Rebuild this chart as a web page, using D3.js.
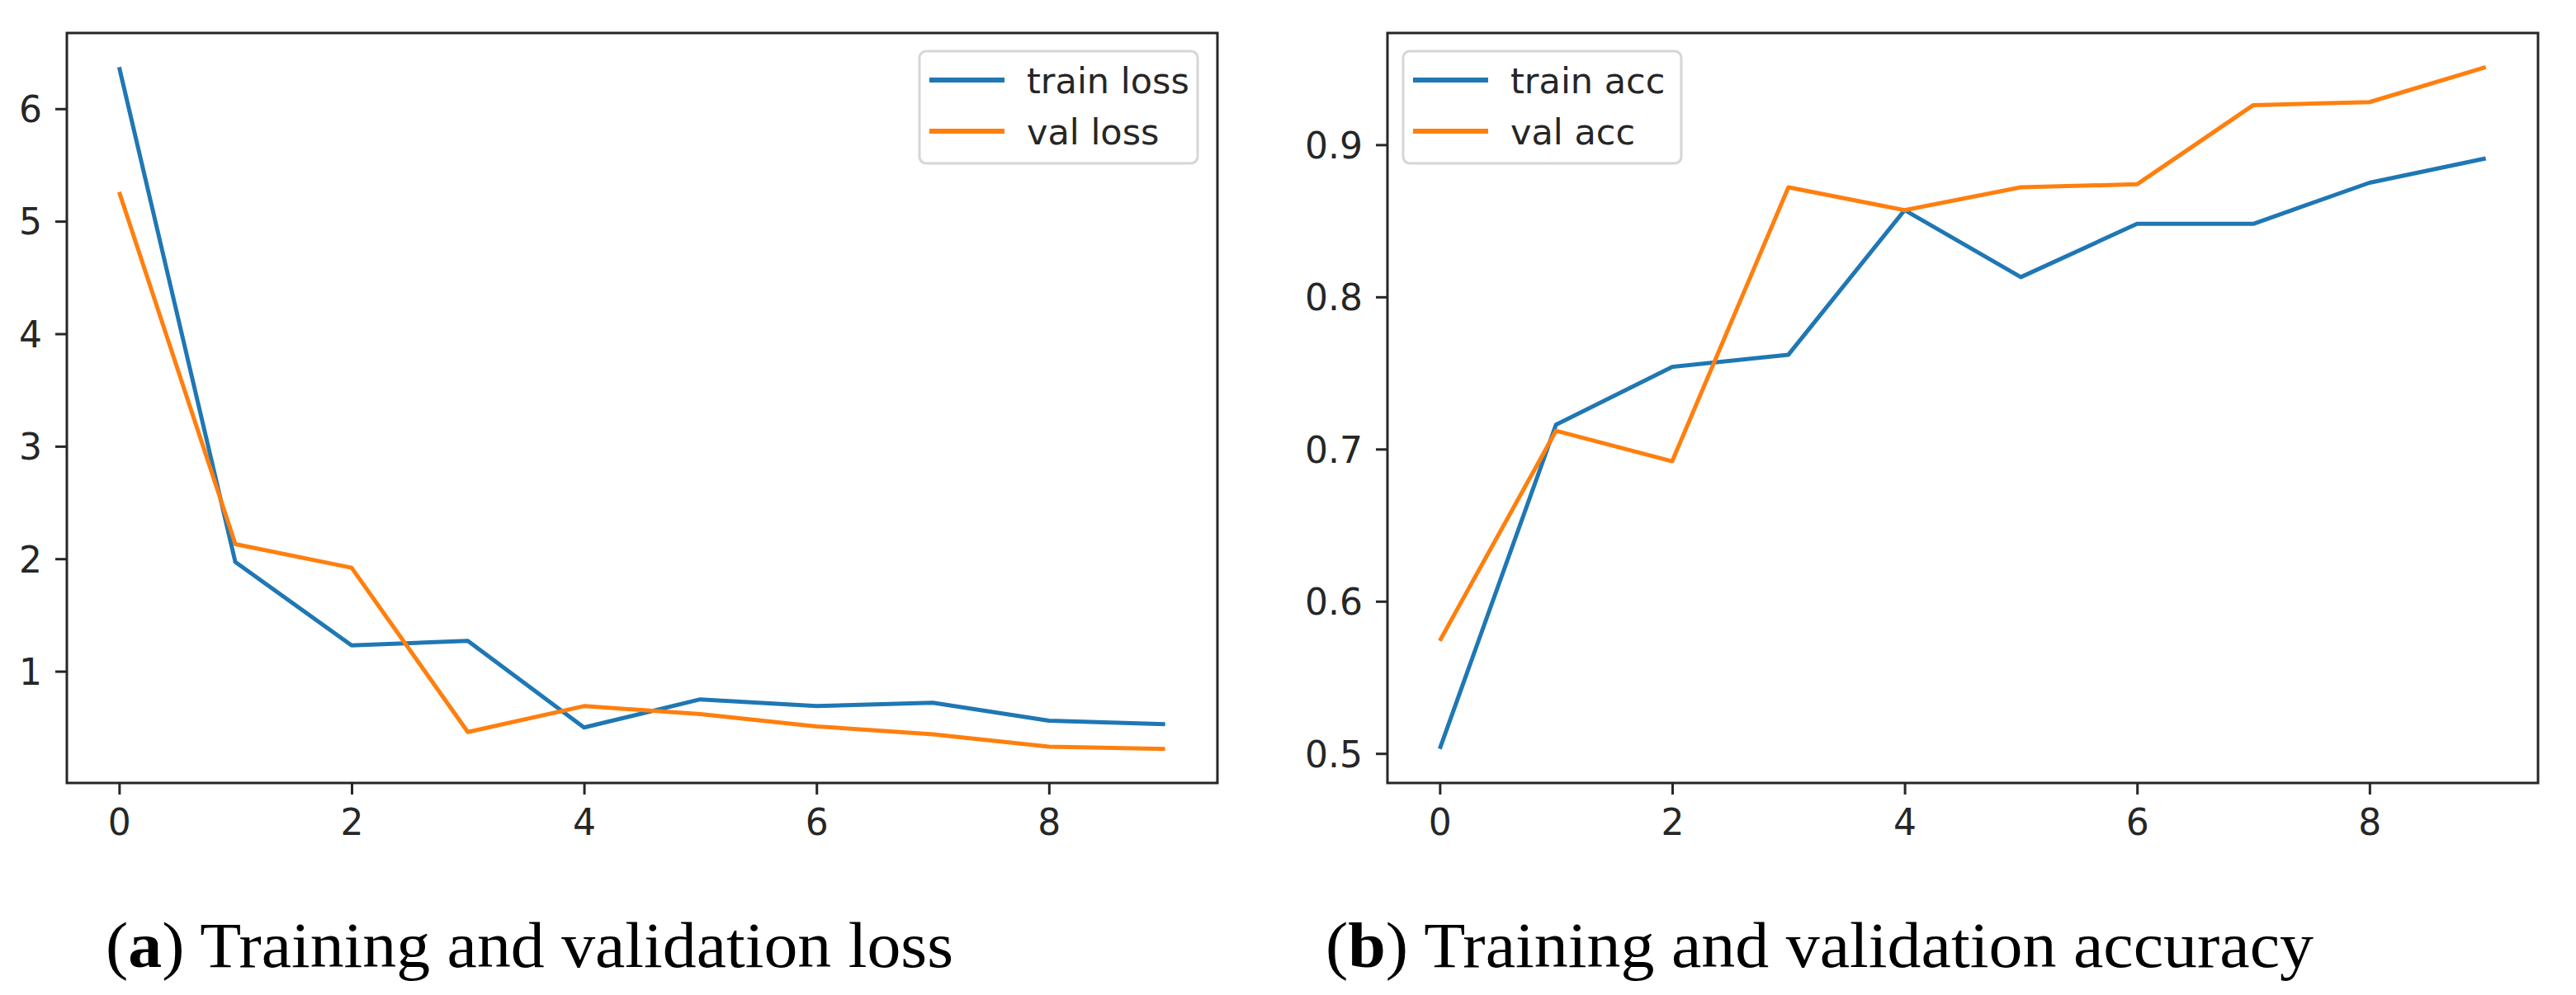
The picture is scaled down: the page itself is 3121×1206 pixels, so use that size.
<!DOCTYPE html>
<html>
<head>
<meta charset="utf-8">
<script src="https://cdn.jsdelivr.net/npm/d3@7"></script>
<style>
  html, body { margin: 0; padding: 0; background: #fff; }
  svg { display: block; }
  .tick text { font-family: "DejaVu Sans", sans-serif; }
</style>
</head>
<body>
<div id="chart"></div>
<script>
// values
var epochs     = [0, 1, 2, 3, 4, 5, 6, 7, 8, 9];
var trainLoss  = [6.37, 1.97, 1.23, 1.27, 0.50, 0.75, 0.69, 0.72, 0.56, 0.53];
var valLoss    = [5.26, 2.13, 1.92, 0.46, 0.69, 0.62, 0.51, 0.44, 0.33, 0.31];
var trainAcc   = [0.503, 0.716, 0.754, 0.762, 0.857, 0.813, 0.848, 0.848, 0.875, 0.891];
var valAcc     = [0.574, 0.712, 0.692, 0.872, 0.857, 0.872, 0.874, 0.926, 0.928, 0.951];

var epochTicks = [0, 2, 4, 6, 8];
var lossTicks  = [1, 2, 3, 4, 5, 6];
var accTicks   = [0.5, 0.6, 0.7, 0.8, 0.9];

var lossNames  = ["train loss", "val loss"];
var accNames   = ["train acc", "val acc"];
var captions   = [["a", " Training and validation loss"], ["b", " Training and validation accuracy"]];

var W = 3121, H = 1206;
var blue = "#1f77b4", orange = "#ff7f0e", ink = "#262626";

var svg = d3.select("#chart")
    .append("svg")
    .attr("width", W)
    .attr("height", H);

// matplotlib style 5% margins round the data
var padded = (vals) => {
    var ext = d3.extent(vals);
    var m = (ext[1] - ext[0]) * 0.05;
    return [ext[0] - m, ext[1] + m];
};

var drawPanel = (opt) => {
    var x = d3.scaleLinear()
        .domain(padded(epochs))
        .range([opt.left, opt.right]);
    var y = d3.scaleLinear()
        .domain(padded(opt.series[0].concat(opt.series[1])))
        .range([opt.bottom, opt.top]);

    var g = svg.append("g");

    // axes
    var xAxis = g.append("g")
        .attr("transform", "translate(0," + opt.bottom + ")")
        .call(d3.axisBottom(x).tickValues(epochTicks).tickSize(14).tickPadding(18).tickFormat(d3.format("d")));
    var yAxis = g.append("g")
        .attr("transform", "translate(" + opt.left + ",0)")
        .call(d3.axisLeft(y).tickValues(opt.ticks).tickSize(14).tickPadding(16).tickFormat(opt.fmt));

    [xAxis, yAxis].forEach((a) => {
        a.select(".domain").remove();
        a.selectAll(".tick line").attr("stroke", ink).attr("stroke-width", 3);
        a.selectAll(".tick text")
            .attr("fill", ink)
            .attr("font-size", 44);
    });
    xAxis.selectAll(".tick text").attr("dy", "0.71em");
    yAxis.selectAll(".tick text").attr("dy", "0.36em");

    // lines
    var line = d3.line()
        .x((d, i) => x(epochs[i]))
        .y((d) => y(d));
    [blue, orange].forEach((c, k) => {
        g.append("path")
            .datum(opt.series[k])
            .attr("d", line)
            .attr("fill", "none")
            .attr("stroke", c)
            .attr("stroke-width", 5)
            .attr("stroke-linejoin", "round");
    });

    // frame
    g.append("rect")
        .attr("x", opt.left)
        .attr("y", opt.top)
        .attr("width", opt.right - opt.left)
        .attr("height", opt.bottom - opt.top)
        .attr("fill", "none")
        .attr("stroke", ink)
        .attr("stroke-width", 3);

    // legend
    var lg = g.append("g").attr("transform", "translate(" + opt.legendX + "," + (opt.top + 22) + ")");
    lg.append("rect")
        .attr("width", 337)
        .attr("height", 136)
        .attr("rx", 8)
        .attr("fill", "#fff")
        .attr("fill-opacity", 0.8)
        .attr("stroke", "#d6d6d6")
        .attr("stroke-width", 3);
    opt.names.forEach((nm, k) => {
        var yy = 35 + k * 62;
        lg.append("line")
            .attr("x1", 12).attr("x2", 103)
            .attr("y1", yy).attr("y2", yy)
            .attr("stroke", k ? orange : blue)
            .attr("stroke-width", 6);
        lg.append("text")
            .attr("x", 130)
            .attr("y", yy + 16)
            .attr("font-family", "DejaVu Sans, sans-serif")
            .attr("font-size", 43)
            .attr("fill", ink)
            .text(nm);
    });

    // caption under the panel
    var cap = svg.append("text")
        .attr("x", opt.capX)
        .attr("y", 1172)
        .attr("font-family", "Liberation Serif, serif")
        .attr("font-size", 78)
        .attr("fill", "#000")
        .attr("textLength", opt.capW)
        .attr("lengthAdjust", "spacingAndGlyphs");
    cap.append("tspan").text("(");
    cap.append("tspan").attr("font-weight", "bold").text(opt.caption[0]);
    cap.append("tspan").text(")" + opt.caption[1]);
};

drawPanel({
    left: 81, right: 1475, top: 40, bottom: 949,
    series: [trainLoss, valLoss], ticks: lossTicks, fmt: d3.format("d"),
    names: lossNames, legendX: 1114,
    caption: captions[0], capX: 128, capW: 1027
});

drawPanel({
    left: 1681, right: 3075, top: 40, bottom: 949,
    series: [trainAcc, valAcc], ticks: accTicks, fmt: d3.format(".1f"),
    names: accNames, legendX: 1700,
    caption: captions[1], capX: 1606, capW: 1197
});
</script>
</body>
</html>
